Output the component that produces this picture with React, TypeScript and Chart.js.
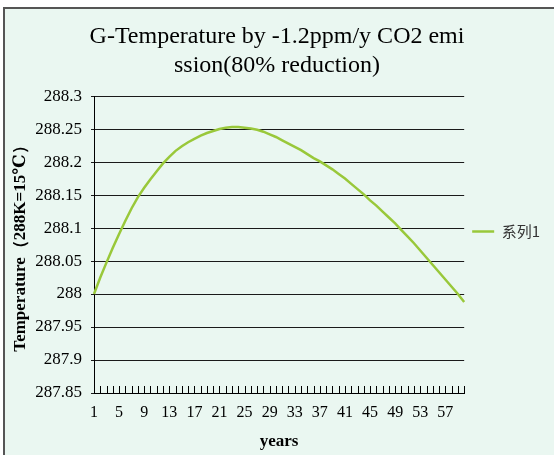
import React, { useEffect, useRef } from "react";
import { Chart, registerables } from "chart.js";

Chart.register(...registerables);

const titleLines = ["G-Temperature by -1.2ppm/y CO2 emi", "ssion(80% reduction)"];
const xAxisTitle = "years";
const yAxisTitle = "Temperature（288K=15℃）";
const seriesName = "系列1";

const years = [
  "1", "2", "3", "4", "5", "6", "7", "8", "9", "10",
  "11", "12", "13", "14", "15", "16", "17", "18", "19", "20",
  "21", "22", "23", "24", "25", "26", "27", "28", "29", "30",
  "31", "32", "33", "34", "35", "36", "37", "38", "39", "40",
  "41", "42", "43", "44", "45", "46", "47", "48", "49", "50",
  "51", "52", "53", "54", "55", "56", "57", "58", "59", "60",
];

const temperature = [
  288.0, 288.025, 288.048, 288.07, 288.091, 288.111, 288.13, 288.147, 288.161, 288.174,
  288.186, 288.198, 288.208, 288.217, 288.224, 288.23, 288.235, 288.24, 288.244, 288.247,
  288.25, 288.252, 288.253, 288.253, 288.252, 288.251, 288.249, 288.246, 288.242, 288.238,
  288.233, 288.228, 288.223, 288.218, 288.212, 288.206, 288.201, 288.195, 288.189, 288.182,
  288.175, 288.167, 288.159, 288.151, 288.142, 288.134, 288.125, 288.116, 288.107, 288.097,
  288.087, 288.077, 288.066, 288.055, 288.044, 288.033, 288.022, 288.011, 288.0, 287.988,
];

const xTickLabels = ["1", "5", "9", "13", "17", "21", "25", "29", "33", "37", "41", "45", "49", "53", "57"];
const yTickLabels = ["287.85", "287.9", "287.95", "288", "288.05", "288.1", "288.15", "288.2", "288.25", "288.3"];
const yMin = 287.85;
const yMax = 288.3;
const yStep = 0.05;

const SERIF = "'Liberation Serif', 'DejaVu Serif', serif";

const backgroundPlugin = {
  id: "excelBackground",
  beforeDraw(chart: any) {
    const { ctx, width, height } = chart;
    ctx.save();
    ctx.fillStyle = "#ffffff";
    ctx.fillRect(0, 0, width, height);
    ctx.fillStyle = "#eaf7f1";
    ctx.fillRect(4, 8, width - 4, height - 8);
    ctx.strokeStyle = "#555555";
    ctx.lineWidth = 2;
    ctx.beginPath();
    ctx.moveTo(4, height);
    ctx.lineTo(4, 8);
    ctx.lineTo(width, 8);
    ctx.stroke();
    ctx.restore();
  },
};

const innerTicksPlugin = {
  id: "innerTicks",
  afterDatasetsDraw(chart: any) {
    const xs = chart.scales.x;
    const { ctx } = chart;
    const y = chart.chartArea.bottom;
    ctx.save();
    ctx.strokeStyle = "#000000";
    ctx.lineWidth = 1;
    ctx.beginPath();
    for (let i = 0; i < xs.ticks.length; i++) {
      const x = Math.round(xs.getPixelForTick(i)) + 0.5;
      ctx.moveTo(x, y);
      ctx.lineTo(x, y - 7);
    }
    ctx.stroke();
    ctx.restore();
  },
};

export default function App() {
  const canvasRef = useRef<HTMLCanvasElement | null>(null);

  useEffect(() => {
    if (!canvasRef.current) return;
    const chart = new Chart(canvasRef.current, {
      type: "line",
      data: {
        labels: years,
        datasets: [
          {
            label: seriesName,
            data: temperature,
            borderColor: "#99c83a",
            backgroundColor: "#99c83a",
            borderWidth: 2.5,
            pointRadius: 0,
            tension: 0,
            fill: false,
          },
        ],
      },
      options: {
        responsive: false,
        animation: false,
        layout: { padding: { left: 4, top: 8, right: 4, bottom: 0 } },
        plugins: {
          title: {
            display: true,
            text: titleLines,
            color: "#000000",
            font: { family: SERIF, size: 24, weight: "normal", lineHeight: 1.21 },
            padding: { top: 14.5, bottom: 15.5 },
          },
          legend: {
            display: true,
            position: "right",
            labels: {
              usePointStyle: true,
              pointStyle: "line",
              pointStyleWidth: 22,
              color: "#333333",
              font: { family: "'Noto Sans CJK SC', sans-serif", size: 15 },
              padding: 8,
            },
          },
          tooltip: { enabled: false },
        },
        scales: {
          x: {
            type: "category",
            offset: false,
            grid: { display: true, drawOnChartArea: false, drawTicks: false },
            border: { display: true, color: "#000000", width: 1 },
            ticks: {
              autoSkip: false,
              maxRotation: 0,
              minRotation: 0,
              padding: 10,
              color: "#000000",
              font: { family: SERIF, size: 16 },
              callback: (_v: any, i: number) => (xTickLabels.includes(years[i]) ? years[i] : ""),
            },
            title: {
              display: true,
              text: xAxisTitle,
              color: "#000000",
              font: { family: SERIF, size: 17, weight: "bold" },
              padding: { top: 0, bottom: 3 },
            },
            afterFit: (scale: any) => {
              scale.height = 62;
            },
          },
          y: {
            min: yMin,
            max: yMax,
            grid: { color: "#1a1a1a", lineWidth: 1, tickLength: 3, drawTicks: true },
            border: { display: true, color: "#000000", width: 1 },
            ticks: {
              stepSize: yStep,
              padding: 9,
              color: "#000000",
              font: { family: SERIF, size: 17 },
              callback: (_v: any, i: number) => yTickLabels[i],
            },
            title: {
              display: true,
              text: yAxisTitle,
              color: "#000000",
              font: { family: SERIF, size: 17, weight: "bold" },
              padding: { top: 6, bottom: 0 },
            },
            afterFit: (scale: any) => {
              scale.width = 90;
            },
          },
        },
      },
      plugins: [backgroundPlugin, innerTicksPlugin],
    });
    return () => chart.destroy();
  }, []);

  return (
    <canvas
      ref={canvasRef}
      width={554}
      height={455}
      style={{ position: "fixed", left: 0, top: 0, display: "block", width: 554, height: 455 }}
    />
  );
}
